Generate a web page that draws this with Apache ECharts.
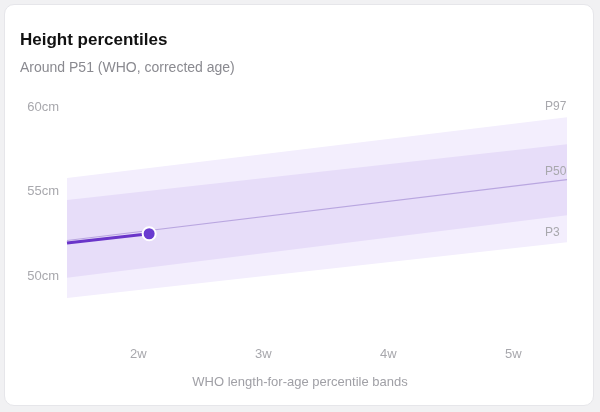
<!DOCTYPE html>
<html><head><meta charset="utf-8">
<script src="https://cdn.jsdelivr.net/npm/echarts@6/dist/echarts.min.js"></script>
<style>html,body{margin:0;background:#f1f1f3;}#wrap{position:absolute;left:4px;top:4px;width:590px;height:402px;background:#fff;border-radius:10px;border:1px solid #e6e6ea;box-sizing:border-box}#c{position:absolute;left:0;top:0;width:600px;height:412px}</style>
</head><body><div id="wrap"></div><div id="c"></div>
<script>
const ages = [10, 38];
const p3 = [48.7, 52.0];
const p15 = [49.9, 53.6];
const p50 = [52.1, 55.7];
const p85 = [54.5, 57.8];
const p97 = [55.8, 59.4];
const measuredAges = [10, 14.6];
const measuredHeights = [51.95, 52.5];
const xTicks = [14, 21, 28, 35];
const yTicks = [50, 55, 60];

const F = 'Liberation Sans';
const pairs = (ys) => ages.map((a, i) => [a, ys[i]]);
const area = (ys, color, z, origin) => ({type: 'line', data: pairs(ys), symbol: 'none', z, lineStyle: {width: 0},
  areaStyle: {color, opacity: 1, origin}, silent: true});
const lbl = (name, dy) => ({show: true, formatter: name, offset: [-30, dy], color: '#a8a8ad', fontSize: 12, fontFamily: F});

const chart = echarts.init(document.getElementById('c'));
chart.setOption({
  animation: false,
  title: [
    {text: 'Height percentiles', left: 15, top: 27, textStyle: {fontSize: 17, fontWeight: 'bold', color: '#111', fontFamily: F}},
    {text: 'Around P51 (WHO, corrected age)', left: 15, top: 56, textStyle: {fontSize: 14, fontWeight: 'normal', color: '#8a8a90', fontFamily: F}},
    {text: 'WHO length-for-age percentile bands', left: 'center', top: 371, textStyle: {fontSize: 13, fontWeight: 'normal', color: '#a0a0a6', fontFamily: F}}
  ],
  grid: {left: 67, right: 33, top: 90.1, bottom: 68.4},
  xAxis: {type: 'value', min: 10, max: 38, axisLine: {show: false}, axisTick: {show: false}, splitLine: {show: false},
    axisLabel: {customValues: xTicks, formatter: v => (v / 7) + 'w', color: '#a8a8ad', fontSize: 13, margin: 4, fontFamily: F}},
  yAxis: {type: 'value', min: 46, max: 61, axisLine: {show: false}, axisTick: {show: false}, splitLine: {show: false},
    axisLabel: {customValues: yTicks, formatter: v => v + 'cm', color: '#a8a8ad', fontSize: 13, margin: 8, fontFamily: F}},
  series: [
    area(p97, '#f3eefd', 1, 47.5),
    area(p85, '#e7ddf9', 2, 47.5),
    area(p15, '#f3eefd', 3, 47.5),
    area(p3, '#ffffff', 4, 46),
    {type: 'line', data: pairs(p97), z: 5, symbol: 'none', lineStyle: {width: 0}, silent: true, endLabel: lbl('P97', -10)},
    {type: 'line', data: pairs(p3), z: 5, symbol: 'none', lineStyle: {width: 0}, silent: true, endLabel: lbl('P3', -10)},
    {type: 'line', data: pairs(p50), z: 5, symbol: 'none', lineStyle: {width: 1.2, color: '#b9a6e0'}, silent: true, endLabel: lbl('P50', -8)},
    {type: 'line', z: 6, data: measuredAges.map((a, i) => [a, measuredHeights[i]]), symbol: 'circle',
      symbolSize: (v, p) => p.dataIndex === measuredAges.length - 1 ? 13 : 0, showAllSymbol: true,
      lineStyle: {width: 3, color: '#6a35c9'}, itemStyle: {color: '#6a3bd0', borderColor: '#fff', borderWidth: 2}}
  ]
});
</script></body></html>
